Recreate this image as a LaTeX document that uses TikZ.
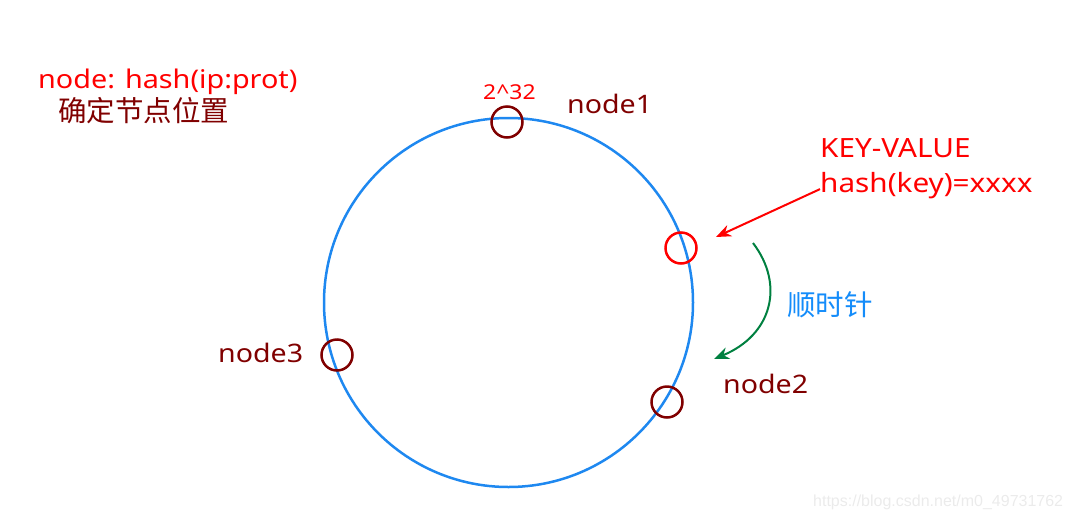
\documentclass[tikz,border=0pt]{standalone}
\usepackage{fontspec}
\setmainfont{Noto Sans}[FakeStretch=1.12]
\newfontfamily\cjk{Noto Sans CJK SC}
\newfontfamily\markfont{Liberation Sans}
\usepackage{tikz}
\usetikzlibrary{positioning, arrows.meta}
\definecolor{ringblue}{RGB}{30,136,240}
\definecolor{nodered}{RGB}{128,0,0}
\definecolor{hashred}{RGB}{255,0,0}
\definecolor{cwgreen}{RGB}{0,128,64}
\definecolor{cwblue}{RGB}{20,140,250}

\begin{document}
\begin{tikzpicture}[x=1pt, y=-1pt, >={Stealth[length=15pt, width=12pt]},
    slot/.style={circle, draw=nodered, line width=2.5pt, minimum size=31pt, inner sep=0pt},
    lbl/.style={inner sep=0pt, text=nodered, font=\fontsize{25.5}{28}\selectfont},
    redtxt/.style={inner sep=0pt, text=hashred, font=\fontsize{26.5}{28}\selectfont}]
      \useasboundingbox (0,0) rectangle (1069,520);

      % the hash ring
      \node[circle, draw=ringblue, line width=2.5pt, minimum size=369pt, inner sep=0pt] (ring) at (508.5,302.5) {};

      % servers on the ring
      \node[slot] (n1) at (507,122) {};
      \node[slot] (n2) at (667,402) {};
      \node[slot] (n3) at (337,355) {};
      \node[slot, draw=hashred] (kslot) at (681,248) {};

      \node[lbl, anchor=base west] (n1lbl) at (567,113) {node1};
      \node[lbl, anchor=base west] (n2lbl) at (723,393) {node2};
      \node[lbl, anchor=base west] (n3lbl) at (218,362) {node3};
      \node[redtxt, anchor=base west, font=\fontsize{20.5}{22}\selectfont] (top) at (483,99) {2\^{}32};

      % how a node gets its place
      \node[redtxt, anchor=base west, font=\fontsize{25.7}{28}\selectfont] (hashnode) at (38,88) {node: hash(ip:prot)};
      \node[lbl, anchor=west, font=\cjk\fontsize{28.5}{30}\selectfont] (place) at (58,111) {确定节点位置};

      % the key
      \node[redtxt, anchor=base west] (kv) at (820,157) {KEY-VALUE};
      \node[redtxt, anchor=base west] (hashkey) at (820,192) {hash(key)=xxxx};
      \coordinate (khit) at (716,237);
      \draw[->, hashred, line width=2pt] ([yshift=-4pt]hashkey.west) -- (khit);

      % clockwise
      \coordinate (cwfrom) at (753,243);
      \coordinate (cwto) at (714,359);
      \draw[->, cwgreen, line width=2pt] (cwfrom) .. controls (785,285) and (772,335) .. (cwto);
      \node[anchor=west, inner sep=0pt, text=cwblue, font=\cjk\fontsize{28.5}{30}\selectfont] (cw) at (787,305) {顺时针};

      \node[anchor=base west, inner sep=0pt, text=black!8, font=\markfont\fontsize{16}{18}\selectfont] (mark) at (813,506) {https://blog.csdn.net/m0\_49731762};
\end{tikzpicture}
\end{document}
